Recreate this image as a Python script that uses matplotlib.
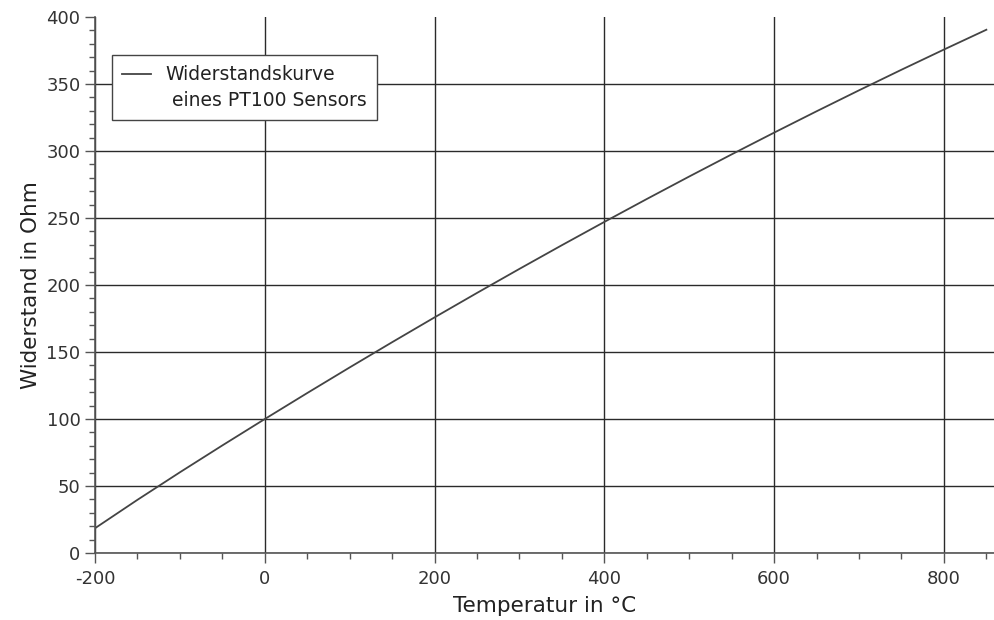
import matplotlib
matplotlib.use("Agg")
import matplotlib.pyplot as plt
from matplotlib.ticker import MultipleLocator
from matplotlib.lines import Line2D

temperatures = [-200, -150, -100, -50, 0, 50, 100, 150, 200, 250, 300, 350,
                400, 450, 500, 550, 600, 650, 700, 750, 800, 850]
resistance = [18.52, 39.72, 60.26, 80.31, 100.00, 119.40, 138.51, 157.33,
              175.86, 194.10, 212.05, 229.72, 247.09, 264.18, 280.98, 297.49,
              313.71, 329.64, 345.28, 360.64, 375.70, 390.48]
x_ticks = [-200, 0, 200, 400, 600, 800]
y_ticks = [0, 50, 100, 150, 200, 250, 300, 350, 400]

plt.rcParams['font.family'] = ['DejaVu Sans']
plt.rcParams['axes.unicode_minus'] = False
fig = plt.figure(figsize=(9.94, 6.2), dpi=100)
ax = fig.add_axes([0.0956, 0.108, 0.9044, 0.8646])

ax.plot(temperatures, resistance, color='#444444', lw=1.3)

ax.set_xlim(-200, 859)
ax.set_ylim(0, 400)
ax.set_xticks(x_ticks)
ax.set_yticks(y_ticks)
ax.xaxis.set_minor_locator(MultipleLocator(50))
ax.yaxis.set_minor_locator(MultipleLocator(10))
ax.grid(True, which='major', color='#2a2a2a', lw=1.0)
ax.set_axisbelow(True)
# no horizontal grid line at the very top
ax.yaxis.get_gridlines()[-1].set_visible(False)

for s in ['top', 'right']:
    ax.spines[s].set_visible(False)
for s in ['left', 'bottom']:
    ax.spines[s].set_color('#555555')
    ax.spines[s].set_linewidth(1.2)

ax.tick_params(which='major', length=7, width=1.0, color='#555555', labelsize=13, labelcolor='#333333')
ax.tick_params(axis='x', which='major', pad=5)
ax.tick_params(which='minor', length=4, width=1.0, color='#555555')

ax.set_xlabel('Temperatur in °C', fontsize=15.5, color='#222222', labelpad=6)
ax.set_ylabel('Widerstand in Ohm', fontsize=15.5, color='#222222', labelpad=4)

handles = [Line2D([], [], color='#444444', lw=1.3), Line2D([], [], color='none')]
labels = ['Widerstandskurve', ' eines PT100 Sensors']
leg = ax.legend(handles, labels, loc='upper left', bbox_to_anchor=(0.019, 0.929),
                fontsize=13.5, frameon=True, fancybox=False, handlelength=1.5,
                borderpad=0.55, handletextpad=0.8, labelspacing=0.35,
                borderaxespad=0.0)
leg.get_frame().set_edgecolor('#444444')
leg.get_frame().set_linewidth(1.0)
leg.get_frame().set_alpha(1.0)
for t in leg.get_texts():
    t.set_color('#222222')

fig.savefig('out.png', dpi=100)
